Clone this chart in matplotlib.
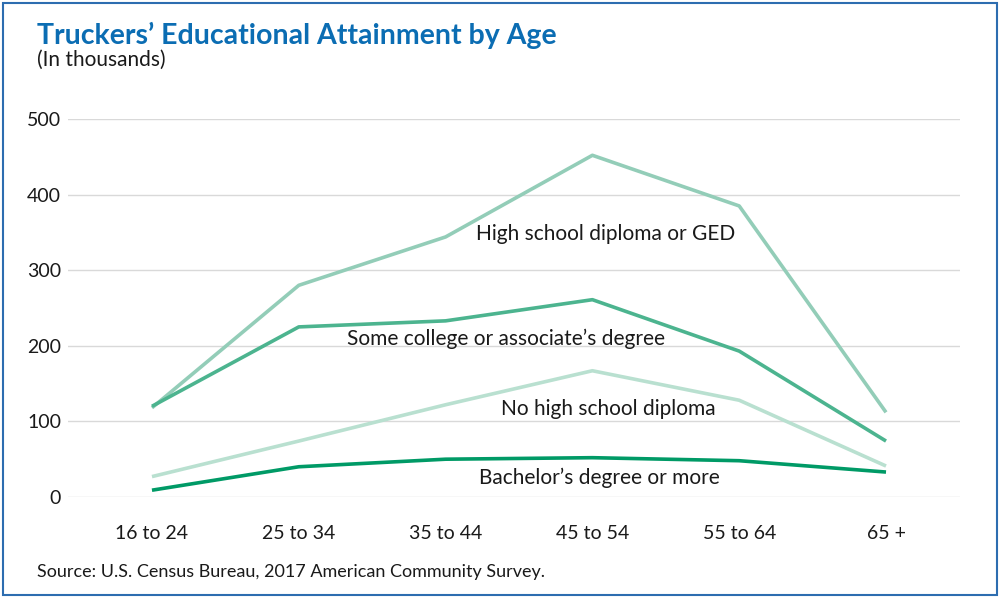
import matplotlib
matplotlib.use("Agg")
import matplotlib.pyplot as plt
from matplotlib.patches import Rectangle

ages = ["16 to 24", "25 to 34", "35 to 44", "45 to 54", "55 to 64", "65 +"]
hs_diploma = [118, 280, 344, 452, 385, 112]
some_college = [120, 225, 233, 261, 193, 74]
no_hs = [27, 74, 122, 167, 128, 41]
bachelors = [9, 40, 50, 52, 48, 33]
yticks = [0, 100, 200, 300, 400, 500]

plt.rcParams['font.family'] = ['Lato', 'DejaVu Sans']

fig = plt.figure(figsize=(10, 6), dpi=100)
ax = fig.add_axes([0.068, 1 - 497 / 600, 0.892, (497 - 119) / 600])

x = list(range(len(ages)))
series = [
    (hs_diploma, "#93cdb8", "High school diploma or GED", 3.09, 348),
    (some_college, "#4cb48f", "Some college or associate\u2019s degree", 2.41, 209),
    (no_hs, "#b9e0d0", "No high school diploma", 3.11, 116),
    (bachelors, "#009a66", "Bachelor\u2019s degree or more", 3.05, 26),
]
for vals, col, lab, lx, ly in series:
    ax.plot(x, vals, color=col, lw=2.6, clip_on=False, solid_capstyle='butt', zorder=3)
    ax.text(lx, ly, lab, ha='center', va='center', fontsize=15, color='#1a1a1a', zorder=4)

ax.set_xlim(-0.572, 5.504)
ax.set_ylim(0, 500)
ax.set_yticks(yticks)
ax.set_xticks(x)
ax.set_xticklabels(ages)
ax.grid(axis='y', color='#d9d9d9', lw=1)
ax.set_axisbelow(True)
for s in ax.spines.values():
    s.set_visible(False)
ax.tick_params(axis='both', length=0, labelsize=14, colors='#1a1a1a')
ax.tick_params(axis='y', pad=5)
ax.tick_params(axis='x', pad=20)

fig.text(0.037, 1 - 35 / 600, "Truckers\u2019 Educational Attainment by Age", fontsize=20.5,
         fontweight='bold', color='#0b6db3', va='center', ha='left')
fig.text(0.037, 1 - 60 / 600, "(In thousands)", fontsize=15, color='#1a1a1a', va='center', ha='left')
fig.text(0.037, 1 - 572 / 600, "Source: U.S. Census Bureau, 2017 American Community Survey.",
         fontsize=13, color='#1a1a1a', va='center', ha='left')

fig.patches.append(Rectangle((0.003, 0.008), 0.994, 0.987, transform=fig.transFigure,
                             fill=False, edgecolor='#2d6db0', lw=1.5))

fig.savefig("out.png", dpi=100)
